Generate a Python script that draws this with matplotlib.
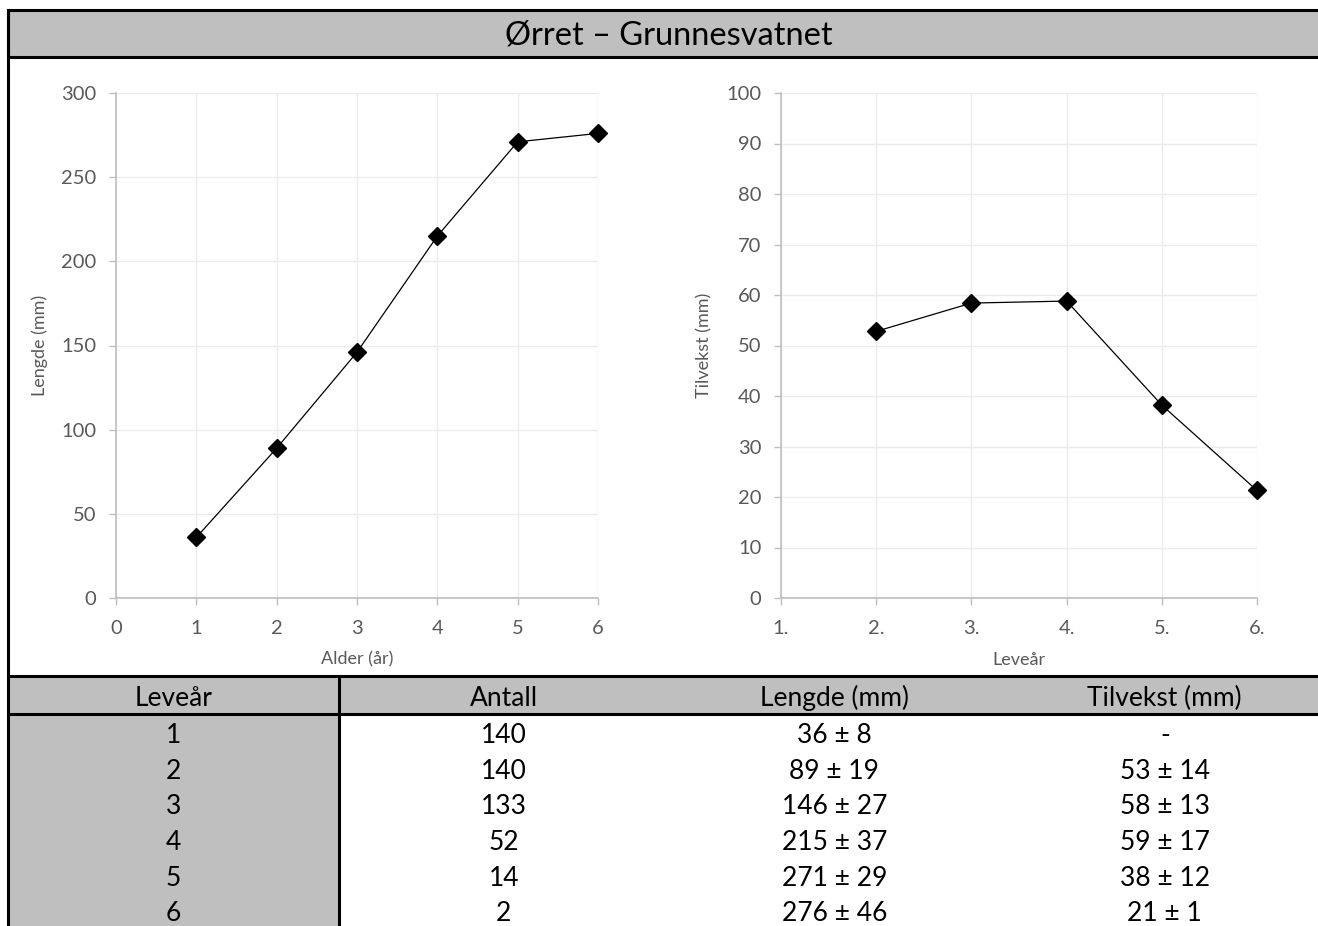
import numpy as np
import matplotlib
matplotlib.use("Agg")
import matplotlib.pyplot as plt
from matplotlib.patches import Rectangle

# -----------------------------------------------------------------------------
# DATA
# -----------------------------------------------------------------------------
TITLE = "Ørret – Grunnesvatnet"

alder = [1, 2, 3, 4, 5, 6]
lengde = [36, 89, 146, 215, 271, 276]

levear_x = [2, 3, 4, 5, 6]
tilvekst = [52.8, 58.4, 58.8, 38.2, 21.3]
levear_ticks = ["1.", "2.", "3.", "4.", "5.", "6."]

tab_header = ["Leveår", "Antall", "Lengde (mm)", "Tilvekst (mm)"]
tab_levear = [1, 2, 3, 4, 5, 6]
tab_antall = [140, 140, 133, 52, 14, 2]
tab_lengde_mean = [36, 89, 146, 215, 271, 276]
tab_lengde_sd = [8, 19, 27, 37, 29, 46]
tab_tilvekst_mean = [None, 53, 58, 59, 38, 21]
tab_tilvekst_sd = [None, 14, 13, 17, 12, 1]

# -----------------------------------------------------------------------------
# STYLE
# -----------------------------------------------------------------------------
plt.rcParams["font.family"] = ["Lato", "DejaVu Sans"]
GREY_FILL = "#BFBFBF"
AXIS_GREY = "#BFBFBF"
GRID_GREY = "#EBEBEB"
TEXT_GREY = "#595959"

W, H = 1318, 926
fig = plt.figure(figsize=(W / 100, H / 100), dpi=100)


def px_axes(x0, y_top, x1, y_bot):
    """Axes from pixel box (origin top-left)."""
    return fig.add_axes([x0 / W, 1 - y_bot / H, (x1 - x0) / W, (y_bot - y_top) / H])


# -----------------------------------------------------------------------------
# FRAME + TITLE (pixel-space overlay)
# -----------------------------------------------------------------------------
bg = fig.add_axes([0, 0, 1, 1])
bg.set_xlim(0, W)
bg.set_ylim(H, 0)
bg.axis("off")
bg.add_patch(Rectangle((8, 10), W + 10, 47, facecolor=GREY_FILL,
                       edgecolor="black", lw=2.2))
bg.text(669, 35, TITLE, ha="center", va="center", fontsize=23.5, color="black")


def style_axes(ax):
    for s in ("top", "right"):
        ax.spines[s].set_visible(False)
    for s in ("left", "bottom"):
        ax.spines[s].set_color(AXIS_GREY)
        ax.spines[s].set_linewidth(1.2)
    ax.tick_params(axis="both", colors=AXIS_GREY, labelcolor=TEXT_GREY,
                   labelsize=14.5, length=5, width=1.0)
    ax.tick_params(axis="x", pad=11)
    ax.tick_params(axis="y", pad=9)
    ax.grid(True, color=GRID_GREY, lw=1.0)
    ax.set_axisbelow(True)


# -----------------------------------------------------------------------------
# LEFT CHART: Lengde vs alder
# -----------------------------------------------------------------------------
ax1 = px_axes(116, 93, 598, 598)
style_axes(ax1)
ax1.plot(alder, lengde, color="black", lw=0.9, marker="D", ms=9, zorder=5,
         clip_on=False)
ax1.set_xlim(0, 6)
ax1.set_ylim(0, 300)
ax1.set_xticks(range(0, 7))
ax1.set_yticks(range(0, 301, 50))
ax1.set_xlabel("Alder (år)", fontsize=13, color=TEXT_GREY)
ax1.set_ylabel("Lengde (mm)", fontsize=13, color=TEXT_GREY)
ax1.xaxis.set_label_coords(0.5, -0.106)
ax1.yaxis.set_label_coords(-0.142, 0.5)

# -----------------------------------------------------------------------------
# RIGHT CHART: Tilvekst per leveår
# -----------------------------------------------------------------------------
ax2 = px_axes(781, 93, 1257, 598)
style_axes(ax2)
ax2.plot(levear_x, tilvekst, color="black", lw=0.9, marker="D", ms=9,
         zorder=5, clip_on=False)
ax2.set_xlim(1, 6)
ax2.set_ylim(0, 100)
ax2.set_xticks(range(1, 7))
ax2.set_xticklabels(levear_ticks)
ax2.set_yticks(range(0, 101, 10))
ax2.set_xlabel("Leveår", fontsize=13, color=TEXT_GREY)
ax2.set_ylabel("Tilvekst (mm)", fontsize=13, color=TEXT_GREY)
ax2.xaxis.set_label_coords(0.5, -0.106)
ax2.yaxis.set_label_coords(-0.144, 0.5)

# -----------------------------------------------------------------------------
# TABLE
# -----------------------------------------------------------------------------
TOP, HEAD_H, ROW_H = 676, 38, 35.6
X0, COL_W = 8, 330.5

bg.add_patch(Rectangle((X0, TOP), W, HEAD_H, facecolor=GREY_FILL,
                       edgecolor="none"))
bg.add_patch(Rectangle((X0, TOP + HEAD_H), COL_W, H, facecolor=GREY_FILL,
                       edgecolor="none"))
bg.plot([X0, W + 5], [TOP, TOP], color="black", lw=2.2)
bg.plot([X0, W + 5], [TOP + HEAD_H, TOP + HEAD_H], color="black", lw=2.2)
bg.plot([X0 + COL_W, X0 + COL_W], [TOP, H + 5], color="black", lw=2.2)
bg.plot([8, 8], [10, H + 5], color="black", lw=2.2)

for c, name in enumerate(tab_header):
    bg.text(X0 + COL_W * (c + 0.5), TOP + HEAD_H / 2 + 3, name,
            ha="center", va="center", fontsize=19, color="black")

for r in range(len(tab_levear)):
    yc = TOP + HEAD_H + ROW_H * (r + 0.5) + 4
    if tab_tilvekst_mean[r] is None:
        tv = "-"
    else:
        tv = f"{tab_tilvekst_mean[r]} ± {tab_tilvekst_sd[r]}"
    cells = [str(tab_levear[r]), str(tab_antall[r]),
             f"{tab_lengde_mean[r]} ± {tab_lengde_sd[r]}", tv]
    for c, txt in enumerate(cells):
        bg.text(X0 + COL_W * (c + 0.5), yc, txt, ha="center", va="center",
                fontsize=19, color="black")

fig.savefig("out.png", dpi=100)
